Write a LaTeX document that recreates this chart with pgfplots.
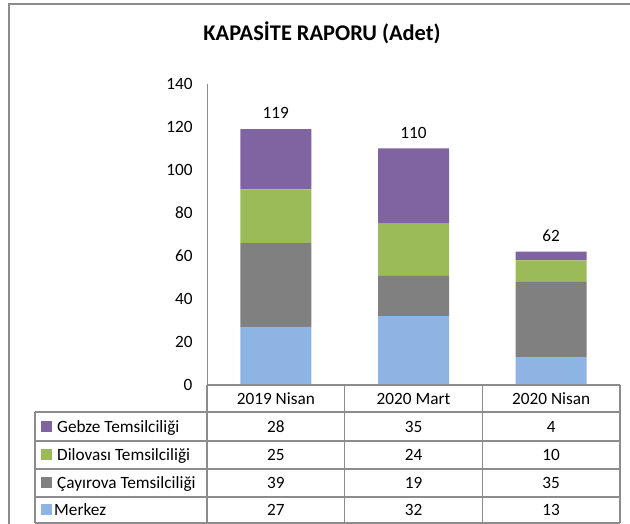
\documentclass[border=0pt]{standalone}
\usepackage{pgfplots}
\pgfplotsset{compat=1.18}
\usepackage{fontspec}
\setmainfont{Carlito}
\definecolor{cMerkez}{HTML}{8EB4E3}
\definecolor{cCay}{HTML}{808080}
\definecolor{cDil}{HTML}{9BBB59}
\definecolor{cGeb}{HTML}{8064A2}
\definecolor{lineg}{HTML}{8C8C8C}
\pgfplotsset{
  commonax/.style={
    at={(207bp,139bp)}, anchor=south west, scale only axis,
    width=413bp, height=301bp,
    ymin=0, ymax=140, xmin=-0.5, xmax=2.5,
  }
}
\begin{document}
\begin{tikzpicture}[x=1bp,y=1bp,font=\fontsize{17.3}{20}\selectfont]
\useasboundingbox (0,0) rectangle (630,524);
\draw[lineg,line width=2bp] (9,0) -- (9,519.5) -- (631,519.5);
\node[font=\fontsize{22.5}{26}\selectfont\bfseries] at (322,491) {KAPASİTE RAPORU (Adet)};
\begin{axis}[
  commonax,
  ybar stacked, bar width=71bp,
  axis x line=bottom, axis y line=left,
  axis line style={-,lineg,line width=1bp},
  ytick={0,20,...,140},
  xtick={0,1,2}, xticklabels={2019 Nisan,2020 Mart,2020 Nisan},
  xticklabel style={anchor=base, yshift=-19.5bp},
  yticklabel style={anchor=east, xshift=-11bp},
  major tick length=0pt,
  tick style={draw=none},
  /pgf/number format/assume math mode=true,
  ticklabel style={font=\fontsize{17.3}{20}\selectfont},
]
\addplot[fill=cMerkez, draw=none] coordinates {(0,27) (1,32) (2,13)};
\addplot[fill=cCay, draw=none] coordinates {(0,39) (1,19) (2,35)};
\addplot[fill=cDil, draw=none] coordinates {(0,25) (1,24) (2,10)};
\addplot[fill=cGeb, draw=none] coordinates {(0,28) (1,35) (2,4)};
\end{axis}
\begin{axis}[commonax, hide axis]
\addplot[draw=none, mark=none, nodes near coords, point meta=y,
  every node near coord/.append style={anchor=center, yshift=16bp, text=black, font=\fontsize{17.3}{20}\selectfont},
  /pgf/number format/assume math mode=true]
  coordinates {(0,119) (1,110) (2,62)};
\end{axis}
% data table
\begin{scope}[lineg, line width=1.2bp]
\draw (207,139) -- (620,139);
\draw (35,112) -- (620,112);
\draw (35,83) -- (620,83);
\draw (35,55) -- (620,55);
\draw (35,27) -- (620,27);
\draw (35,1) -- (620,1);
\draw (35,112) -- (35,1);
\draw (207,139) -- (207,1);
\draw (344.7,139) -- (344.7,1);
\draw (482.3,139) -- (482.3,1);
\draw (620,139) -- (620,1);
\end{scope}
% legend keys
\fill[cGeb] (40.5,92) rectangle (51.5,103);
\fill[cDil] (40.5,63.5) rectangle (51.5,74.5);
\fill[cCay] (40.5,35.5) rectangle (51.5,46.5);
\fill[cMerkez] (40.5,8.5) rectangle (51.5,19.5);
\begin{scope}[every node/.style={inner sep=0pt, anchor=base west}]
\node at (57,91.5) {Gebze Temsilciliği};
\node at (57,63) {Dilovası Temsilciliği};
\node at (57,35) {Çayırova Temsilciliği};
\node at (54,8) {Merkez};
\end{scope}
\begin{scope}[every node/.style={inner sep=0pt, anchor=base}]
\node at (275.9,91.5) {28}; \node at (413.5,91.5) {35}; \node at (551.2,91.5) {4};
\node at (275.9,63) {25}; \node at (413.5,63) {24}; \node at (551.2,63) {10};
\node at (275.9,35) {39}; \node at (413.5,35) {19}; \node at (551.2,35) {35};
\node at (275.9,8) {27}; \node at (413.5,8) {32}; \node at (551.2,8) {13};
\end{scope}
\end{tikzpicture}
\end{document}
